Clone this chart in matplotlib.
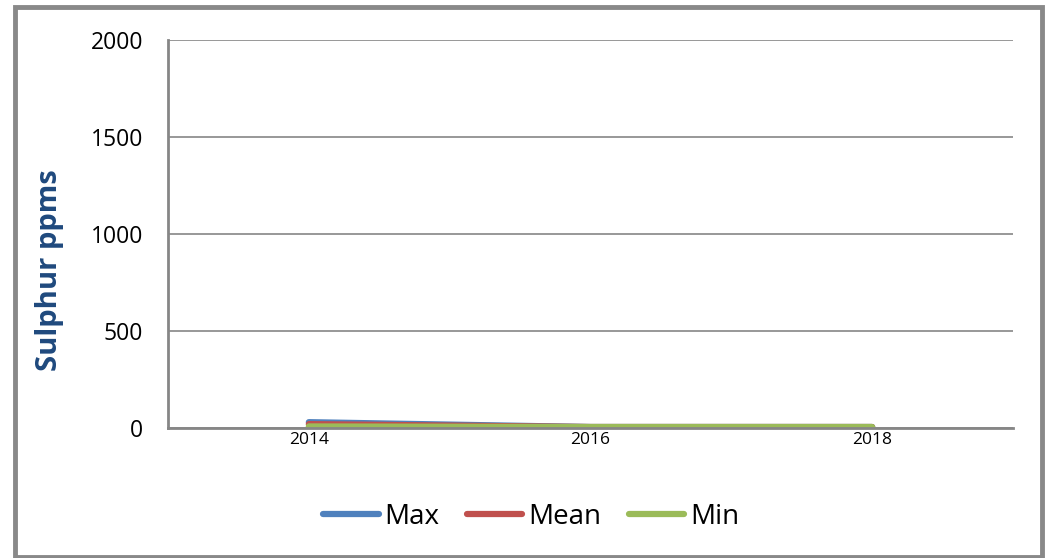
import matplotlib
matplotlib.use('Agg')
import matplotlib.pyplot as plt
from matplotlib.patches import Rectangle

years = ['2014', '2016', '2018']
max_vals = [30, 5, 5]
mean_vals = [20, 5, 5]
min_vals = [8, 5, 5]
series_names = ['Max', 'Mean', 'Min']
colors = ['#4F81BD', '#C0504D', '#9BBB59']

plt.rcParams['font.family'] = ['Open Sans', 'DejaVu Sans']

fig = plt.figure(figsize=(10.49, 5.58), dpi=100)
ax = fig.add_axes([168/1049, 1 - 428/558, (1013-168)/1049, (428-40)/558])

x = list(range(len(years)))
for vals, name, c in zip([max_vals, mean_vals, min_vals], series_names, colors):
	ax.plot(x, vals, color=c, lw=4.5, label=name, solid_capstyle='round')

ax.set_xlim(-0.5, 2.5)
ax.set_ylim(0, 2000)
ax.set_yticks([0, 500, 1000, 1500, 2000])
ax.set_xticks(x)
ax.set_xticklabels(years, fontsize=12.5)
ax.tick_params(axis='y', labelsize=16.5, length=0, pad=18)
ax.tick_params(axis='x', length=0, pad=3)
ax.grid(axis='y', color='#868686', lw=1.2)
ax.set_axisbelow(True)
for s in ['top', 'right']:
	ax.spines[s].set_visible(False)
for s in ['left', 'bottom']:
	ax.spines[s].set_color('#868686')
	ax.spines[s].set_linewidth(2)

ax.set_ylabel('Sulphur ppms', fontsize=21, fontweight='bold', color='#1F497D')
ax.yaxis.set_label_coords(-(168-64)/845, (428-270)/388)

leg = fig.legend(loc='center', bbox_to_anchor=(531/1049, 1 - 517/558), ncol=3, frameon=False,
	fontsize=20, handlelength=2.0, handletextpad=0.2, columnspacing=1.0)
for h in leg.get_lines():
	h.set_linewidth(4.5)

fig.patches.append(Rectangle((15/1049, 1/558), (1042-15)/1049, (550)/558, transform=fig.transFigure,
	fill=False, edgecolor='#898989', lw=3.5))

fig.savefig('out.png', dpi=100)
